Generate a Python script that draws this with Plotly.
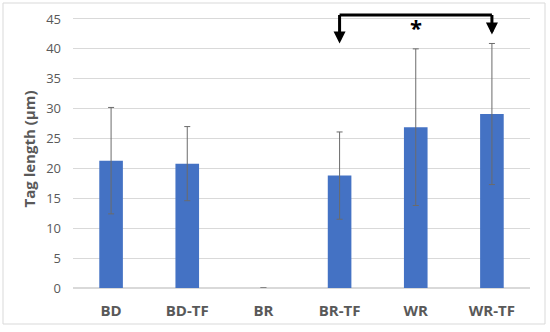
import plotly.graph_objects as go

categories = ["BD", "BD-TF", "BR", "BR-TF", "WR", "WR-TF"]
means = [21.3, 20.8, 0, 18.8, 26.9, 29.1]
errors = [8.9, 6.2, 0, 7.3, 13.1, 11.8]
y_ticks = [0, 5, 10, 15, 20, 25, 30, 35, 40, 45]

# significance bracket between BR-TF and WR-TF
bracket_from, bracket_to = 3, 5
bracket_top = 45.65
bracket_tips = [40.9, 42.4]
star_label = "*"
star_y = 43.6

fig = go.Figure()
fig.add_trace(go.Bar(
    x=categories, y=means,
    marker=dict(color="#4472C4", line=dict(width=0)),
    error_y=dict(type="data", array=errors, visible=True,
                 color="#6b6b6b", thickness=1, width=3),
    width=0.31,
))

FONT = "Open Sans, Liberation Sans, sans-serif"
fig.update_layout(
    width=550, height=332,
    margin=dict(l=73, r=20, t=10, b=44, autoexpand=False),
    paper_bgcolor="white", plot_bgcolor="white",
    showlegend=False,
    font=dict(family=FONT, color="#595959"),
    xaxis=dict(type="category", showgrid=False, showline=False, ticks="", automargin=False,
               ticklabelstandoff=12,
               tickfont=dict(size=15, color="#595959", family=FONT, weight="bold"),
               range=[-0.5, 5.5]),
    yaxis=dict(range=[0, 46.5], tickvals=y_ticks, showgrid=True, gridcolor="#d9d9d9",
               gridwidth=1, zeroline=True, zerolinecolor="#d9d9d9", showline=False,
               ticks="", ticklabelstandoff=11, automargin=False,
               tickfont=dict(size=13, color="#595959", family=FONT),
               title=dict(text="<b>Tag length (µm)</b>", standoff=6,
                          font=dict(size=15, color="#595959", family=FONT))),
)

# horizontal bracket line
fig.add_shape(type="line", xref="x", yref="y",
              x0=bracket_from, x1=bracket_to, y0=bracket_top, y1=bracket_top,
              line=dict(color="black", width=3))
for xi, tip in zip([bracket_from, bracket_to], bracket_tips):
    fig.add_annotation(x=xi, y=tip, ax=xi, ay=bracket_top + 0.25,
                       xref="x", yref="y", axref="x", ayref="y",
                       showarrow=True, arrowhead=2, arrowsize=0.8,
                       arrowwidth=3, arrowcolor="black", text="")
fig.add_annotation(x=4, y=star_y, xref="x", yref="y", text="<b>*</b>",
                   showarrow=False, font=dict(size=22, color="black", family=FONT))

# chart border (Excel-style)
fig.add_shape(type="rect", xref="paper", yref="paper",
              x0=-70/457, x1=1 + 15/457, y0=-36/278, y1=1 + 7/278,
              line=dict(color="#d9d9d9", width=1), fillcolor="rgba(0,0,0,0)")

fig.write_html("out.html", config={"displayModeBar": False},
               post_script="document.body.style.margin='0';")
